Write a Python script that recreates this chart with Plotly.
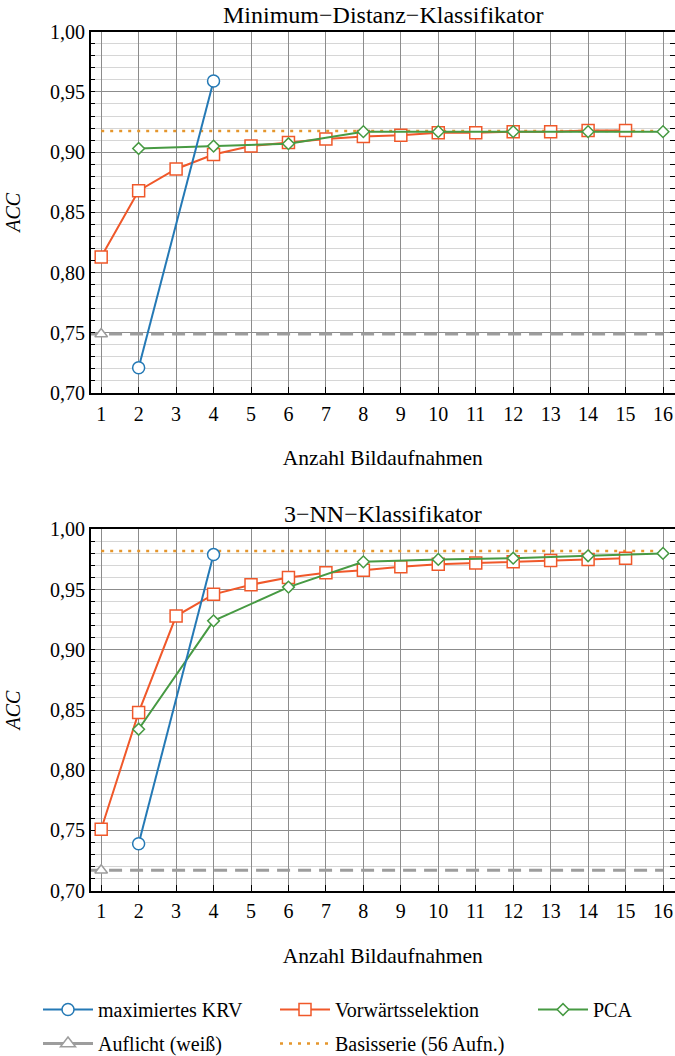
import plotly.graph_objects as go

# ---------------- data ----------------
x_krv = [2, 4]
top_krv = [0.721, 0.959]
bot_krv = [0.739, 0.979]

x_fwd = list(range(1, 16))
top_fwd = [0.813, 0.868, 0.886, 0.898, 0.905, 0.908, 0.911, 0.913, 0.914, 0.916,
           0.916, 0.917, 0.917, 0.918, 0.918]
bot_fwd = [0.751, 0.848, 0.928, 0.946, 0.954, 0.960, 0.964, 0.966, 0.969, 0.971,
           0.972, 0.973, 0.974, 0.975, 0.976]

x_pca = [2, 4, 6, 8, 10, 12, 14, 16]
top_pca = [0.903, 0.905, 0.907, 0.917, 0.917, 0.917, 0.917, 0.917]
bot_pca = [0.834, 0.924, 0.952, 0.973, 0.975, 0.976, 0.978, 0.980]

x_ref_line = [0.65, 16]
x_auflicht = [1]
top_auflicht = 0.749
bot_auflicht = 0.717

x_basis = [1, 16]
top_basis = 0.9175
bot_basis = 0.982

titles = ["Minimum\u2212Distanz\u2212Klassifikator", "3\u2212NN\u2212Klassifikator"]
x_ticks = list(range(1, 17))
y_ticks = [0.70, 0.75, 0.80, 0.85, 0.90, 0.95, 1.00]

# ---------------- styles ----------------
C_KRV = "#2479b5"
C_FWD = "#f0582a"
C_PCA = "#479a43"
C_AUF = "#9d9d9d"
C_BAS = "#e5962c"
FONT = "Liberation Serif"

W, H = 675, 1056
LEG_TOP = 990          # legend top (px); plotly reserves the space below it
HP = LEG_TOP           # resulting plot-area height (px)


def py(px):
    """pixel row from top -> paper fraction of the plot area"""
    return (HP - px) / HP


fig = go.Figure()

panels = [
    ("x", "y", top_krv, top_fwd, top_pca, top_auflicht, top_basis),
    ("x2", "y2", bot_krv, bot_fwd, bot_pca, bot_auflicht, bot_basis),
]

for i, (xa, ya, krv, fwd, pca, auf, bas) in enumerate(panels):
    fig.add_trace(go.Scatter(x=x_ref_line, y=[auf, auf], xaxis=xa, yaxis=ya, mode="lines",
                             line=dict(color=C_AUF, width=3, dash="13px,8px"),
                             showlegend=False, hoverinfo="skip"))
    fig.add_trace(go.Scatter(x=x_auflicht, y=[auf], xaxis=xa, yaxis=ya, mode="markers",
                             marker=dict(symbol="triangle-up", size=11, color="white",
                                         line=dict(color=C_AUF, width=1.5)),
                             showlegend=False))
    fig.add_trace(go.Scatter(x=x_basis, y=[bas, bas], xaxis=xa, yaxis=ya, mode="lines",
                             line=dict(color=C_BAS, width=2.5, dash="3px,6px"),
                             name="Basisserie (56 Aufn.)", legend="legend2", legendrank=2,
                             legendgroup="bas", showlegend=(i == 0)))
    fig.add_trace(go.Scatter(x=x_fwd, y=fwd, xaxis=xa, yaxis=ya, mode="lines+markers",
                             line=dict(color=C_FWD, width=2),
                             marker=dict(symbol="square", size=12, color="white",
                                         line=dict(color=C_FWD, width=1.5)),
                             name="Vorwärtsselektion", legend="legend2", legendrank=1,
                             legendgroup="fwd", showlegend=(i == 0)))
    fig.add_trace(go.Scatter(x=x_pca, y=pca, xaxis=xa, yaxis=ya, mode="lines+markers",
                             line=dict(color=C_PCA, width=2),
                             marker=dict(symbol="diamond", size=9, color="white",
                                         line=dict(color=C_PCA, width=1.5)),
                             name="PCA", legend="legend3", legendgroup="pca",
                             showlegend=(i == 0)))
    fig.add_trace(go.Scatter(x=x_krv, y=krv, xaxis=xa, yaxis=ya, mode="lines+markers",
                             line=dict(color=C_KRV, width=2),
                             marker=dict(symbol="circle", size=12, color="white",
                                         line=dict(color=C_KRV, width=1.5)),
                             name="maximiertes KRV", legend="legend", legendrank=1,
                             legendgroup="krv", showlegend=(i == 0)))

# legend entry for Auflicht (solid line with triangle, as in the reference key)
fig.add_trace(go.Scatter(x=[None], y=[None], mode="lines+markers",
                         line=dict(color=C_AUF, width=3),
                         marker=dict(symbol="triangle-up", size=13, color="white",
                                     line=dict(color=C_AUF, width=1.5)),
                         name="Auflicht (weiß)", legend="legend", legendrank=2,
                         legendgroup="auf"))

x_dom = [90.7 / W, 1.0]
y_doms = [[py(393), py(31.7)], [py(890.7), py(529.3)]]

common_x = dict(range=[0.72, 16.32], tickvals=x_ticks, ticks="inside", ticklen=6,
                tickcolor="black", showgrid=True, gridcolor="#8c8c8c", gridwidth=1,
                showline=True, linecolor="black", linewidth=1.5, mirror=True,
                zeroline=False, domain=x_dom, automargin=False,
                tickfont=dict(family=FONT, size=20, color="black"),
                title=dict(text="Anzahl Bildaufnahmen", standoff=26,
                           font=dict(family=FONT, size=21.5, color="black")),
                ticklabelstandoff=2)
common_y = dict(range=[0.70, 1.00], tickvals=y_ticks, tickformat=".2f", ticks="inside",
                ticklen=5, tickcolor="black", showgrid=True, gridcolor="#8c8c8c",
                gridwidth=1, showline=True, linecolor="black", linewidth=1.5,
                mirror="allticks", zeroline=False, automargin=False,
                minor=dict(dtick=0.01, tick0=0.70, ticks="inside", ticklen=5,
                           tickcolor="black", showgrid=True, gridcolor="#d6d6d6",
                           gridwidth=1),
                tickfont=dict(family=FONT, size=20, color="black"),
                title=dict(text="ACC", standoff=24,
                           font=dict(family=FONT, size=20, color="black", style="italic")))

leg_common = dict(orientation="v", xref="paper", yref="container", xanchor="left",
                  yanchor="top", y=1 - LEG_TOP / H,
                  font=dict(family=FONT, size=20, color="black"),
                  itemwidth=50, tracegroupgap=5, bgcolor="rgba(0,0,0,0)",
                  traceorder="grouped")

fig.update_layout(
    width=W, height=H,
    margin=dict(l=0, r=0, t=0, b=0),
    paper_bgcolor="white", plot_bgcolor="white",
    separators=",.",
    font=dict(family=FONT, size=20, color="black"),
    xaxis=dict(common_x, anchor="y"),
    yaxis=dict(common_y, domain=y_doms[0], anchor="x"),
    xaxis2=dict(common_x, anchor="y2"),
    yaxis2=dict(common_y, domain=y_doms[1], anchor="x2"),
    legend=dict(leg_common, x=38 / W),
    legend2=dict(leg_common, x=275 / W),
    legend3=dict(leg_common, x=533 / W),
    annotations=[
        dict(text=titles[0], x=(x_dom[0] + x_dom[1]) / 2, y=py(15), xref="paper",
             yref="paper", yanchor="middle", showarrow=False,
             font=dict(family=FONT, size=24, color="black")),
        dict(text=titles[1], x=(x_dom[0] + x_dom[1]) / 2, y=py(514), xref="paper",
             yref="paper", yanchor="middle", showarrow=False,
             font=dict(family=FONT, size=24, color="black")),
    ],
    showlegend=True,
)

fig.write_html("out.html")
